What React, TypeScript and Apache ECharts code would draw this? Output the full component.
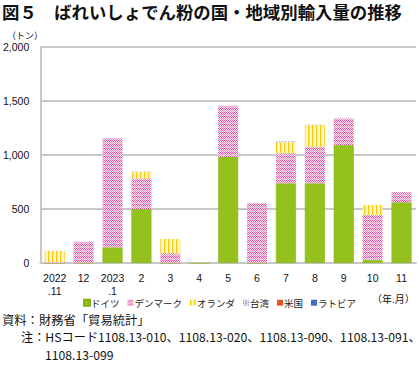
import React, { useEffect, useRef } from "react";
import * as echarts from "echarts";

const categories = ["2022\n.11", "12", "2023\n.1", "2", "3", "4", "5", "6", "7", "8", "9", "10", "11"];
const germany = [0, 0, 145, 500, 0, 0, 984, 0, 738, 738, 1093, 28, 562];
const denmark = [10, 197, 1010, 284, 90, 0, 473, 553, 278, 339, 247, 417, 93];
const netherlands = [100, 0, 0, 58, 132, 0, 0, 0, 102, 201, 0, 92, 0];
const taiwan = [4, 0, 0, 4, 0, 4, 0, 0, 8, 5, 0, 0, 0];
const usa = [0, 0, 0, 0, 0, 0, 0, 0, 0, 0, 0, 0, 0];
const latvia = [0, 0, 0, 0, 0, 0, 0, 0, 0, 0, 0, 0, 0];
const yTicks = [0, 500, 1000, 1500, 2000];

const FONT = "'Noto Sans CJK JP', 'Liberation Sans', sans-serif";

function makeTile(w: number, h: number, draw: (ctx: CanvasRenderingContext2D) => void) {
  const c = document.createElement("canvas");
  c.width = w;
  c.height = h;
  const ctx = c.getContext("2d")!;
  draw(ctx);
  return c;
}

export default function App() {
  const ref = useRef<HTMLDivElement>(null);
  useEffect(() => {
    if (!ref.current) return;
    const chart = echarts.init(ref.current, null, { renderer: "svg" });

    const pinkTile = makeTile(4, 4, (ctx) => {
      ctx.fillStyle = "#fbe3f0";
      ctx.fillRect(0, 0, 4, 4);
      ctx.fillStyle = "#e24d9f";
      ctx.fillRect(0, 0, 1, 1);
      ctx.fillRect(1, 1, 1, 1);
      ctx.fillRect(2, 0, 1, 1);
      ctx.fillRect(3, 1, 1, 1);
      ctx.fillStyle = "#ee8cc2";
      ctx.fillRect(0, 2, 1, 1);
      ctx.fillRect(1, 3, 1, 1);
      ctx.fillRect(2, 2, 1, 1);
      ctx.fillRect(3, 3, 1, 1);
    });
    const yellowTile = makeTile(4, 4, (ctx) => {
      ctx.fillStyle = "#fff6c8";
      ctx.fillRect(0, 0, 4, 4);
      ctx.fillStyle = "#f7cc10";
      ctx.fillRect(0, 0, 1, 4);
      ctx.fillStyle = "#ffe57a";
      ctx.fillRect(1, 0, 1, 4);
    });
    const taiwanTile = makeTile(3, 3, (ctx) => {
      ctx.fillStyle = "#e4e4f0";
      ctx.fillRect(0, 0, 3, 3);
      ctx.fillStyle = "#6a6aaa";
      ctx.fillRect(0, 0, 1, 1);
      ctx.fillRect(2, 2, 1, 1);
    });

    const mk = (name: string, data: number[], color: any, border?: string) => ({
      name,
      type: "bar",
      stack: "total",
      barWidth: 20,
      data,
      itemStyle: { color, borderColor: border, borderWidth: border ? 0.6 : 0 },
    });

    chart.setOption({
      animation: false,
      textStyle: { fontFamily: FONT },
      grid: { left: 36, right: 4, top: 47, bottom: 103 },
      legend: {
        left: 78,
        top: 293,
        itemWidth: 6,
        itemHeight: 6,
        itemGap: 8,
        icon: "rect",
        textStyle: { fontSize: 9.5, color: "#222", fontFamily: FONT, padding: [0, 0, 0, -4] },
        data: ["ドイツ", "デンマーク", "オランダ", "台湾", "米国", "ラトビア"],
      },
      xAxis: {
        type: "category",
        data: categories,
        axisTick: { show: false },
        axisLine: { lineStyle: { color: "#c8c8c8", width: 2 } },
        axisLabel: {
          interval: 0,
          fontSize: 10.5,
          color: "#111",
          lineHeight: 13,
          margin: 8,
          fontFamily: "'Liberation Sans', Arial, sans-serif",
          verticalAlign: "top",
        },
      },
      yAxis: {
        type: "value",
        min: yTicks[0],
        max: yTicks[yTicks.length - 1],
        interval: 500,
        axisLine: { show: true, lineStyle: { color: "#c8c8c8", width: 2 } },
        splitLine: { lineStyle: { color: "#c8c8c8", width: 2 } },
        axisLabel: {
          fontSize: 10.5,
          color: "#111",
          margin: 11,
          fontFamily: "'Liberation Sans', Arial, sans-serif",
          formatter: (v: number) => v.toLocaleString("en-US"),
        },
      },
      series: [
        mk("ドイツ", germany, "#95c11f", "#86b014"),
        mk("デンマーク", denmark, { image: pinkTile, repeat: "repeat" }),
        mk("オランダ", netherlands, { image: yellowTile, repeat: "repeat" }),
        mk("台湾", taiwan, { image: taiwanTile, repeat: "repeat" }),
        mk("米国", usa, "#e8571e"),
        mk("ラトビア", latvia, "#3f6fc0"),
      ],
      graphic: [
        {
          type: "text",
          left: 2,
          top: 3,
          style: {
            text: "図５　ばれいしょでん粉の国・地域別輸入量の推移",
            font: `bold 17.4px ${FONT}`,
            fill: "#111",
          },
        },
        {
          type: "text",
          left: 7,
          top: 31,
          style: { text: "（トン）", font: `9px ${FONT}`, fill: "#111" },
        },
        {
          type: "text",
          left: 372,
          top: 293,
          style: { text: "（年.月）", font: `10px ${FONT}`, fill: "#111" },
        },
        {
          type: "text",
          left: 2,
          top: 314,
          style: { text: "資料：財務省「貿易統計」", font: `12.3px ${FONT}`, fill: "#111" },
        },
        {
          type: "text",
          left: 21,
          top: 331,
          style: {
            text: "注：HSコード1108.13-010、1108.13-020、1108.13-090、1108.13-091、",
            font: `12.2px ${FONT}`,
            fill: "#111",
          },
        },
        {
          type: "text",
          left: 45,
          top: 349,
          style: { text: "1108.13-099", font: `12.2px ${FONT}`, fill: "#111" },
        },
      ],
    });
    return () => chart.dispose();
  }, []);
  return <div ref={ref} style={{ width: 420, height: 366, position: "absolute", left: 0, top: 0 }} />;
}
